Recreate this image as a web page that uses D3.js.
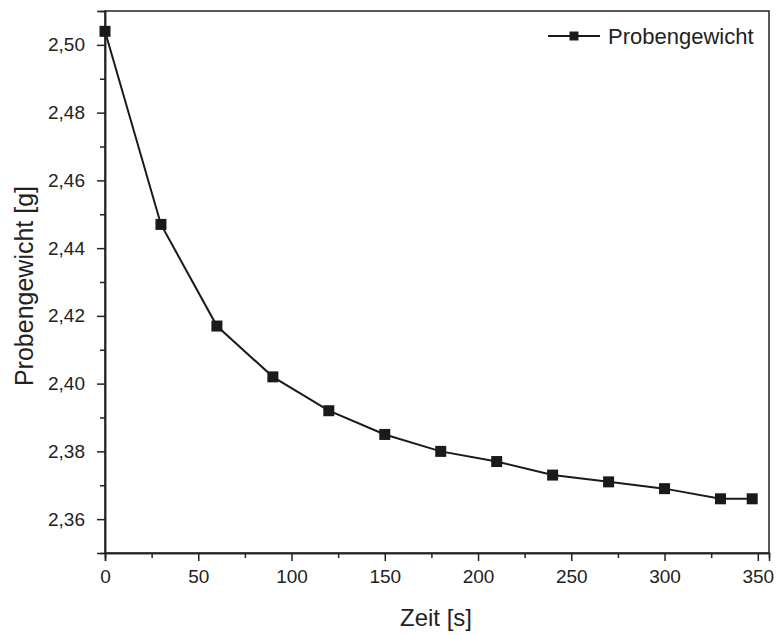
<!DOCTYPE html>
<html>
<head>
<meta charset="utf-8">
<script src="https://cdn.jsdelivr.net/npm/d3@7"></script>
<style>
    body { margin: 0; background: #fff; }
    text { font-family: "Liberation Sans", Arial, sans-serif; fill: #222; }
</style>
</head>
<body>
<svg width="784" height="635"></svg>
<script>
// values
let zeit = [0, 30, 60, 90, 120, 150, 180, 210, 240, 270, 300, 330, 347];
let gewicht = [2.504, 2.447, 2.417, 2.402, 2.392, 2.385, 2.380, 2.377, 2.373, 2.371, 2.369, 2.366, 2.366];
let xTicks = [0, 50, 100, 150, 200, 250, 300, 350];
let yTicks = [2.36, 2.38, 2.40, 2.42, 2.44, 2.46, 2.48, 2.50];
let seriesName = "Probengewicht";

let svg = d3.select("svg");
let margin = {left: 105, top: 11, right: 15, bottom: 82};
let width = +svg.attr("width");
let height = +svg.attr("height");

let x = d3.scaleLinear().domain([0, 356]).range([margin.left, width - margin.right]);
let y = d3.scaleLinear().domain([2.35, 2.51]).range([height - margin.bottom, margin.top]);

let comma = d => d3.format(".2f")(d).replace(".", ",");

// frame
svg.append("rect")
    .attr("x", x.range()[0])
    .attr("y", y.range()[1])
    .attr("width", x.range()[1] - x.range()[0])
    .attr("height", y.range()[0] - y.range()[1])
    .attr("fill", "none")
    .attr("stroke", "#222")
    .attr("stroke-width", 1.5);

// minor ticks
let xAxisMinor = d3.axisBottom(x).tickValues(d3.range(25, 356, 50)).tickSize(5).tickFormat("");
let yAxisMinor = d3.axisLeft(y).tickValues(d3.range(2.37, 2.51, 0.02)).tickSize(5).tickFormat("");

let xAxis = d3.axisBottom(x).tickValues(xTicks).tickSize(8).tickPadding(9);
let yAxis = d3.axisLeft(y).tickValues(yTicks).tickSize(8).tickPadding(12).tickFormat(comma);

function styleAxis(g) {
    g.select(".domain").attr("stroke", "#222").attr("stroke-width", 1.5);
    g.selectAll(".tick line").attr("stroke", "#222").attr("stroke-width", 1.5);
    g.selectAll("text").attr("font-size", 19).attr("fill", "#222")
        .style("font-family", "'Liberation Sans', Arial, sans-serif");
}

svg.append("g").attr("transform", `translate(0,${y.range()[0]})`).call(xAxisMinor).call(styleAxis);
svg.append("g").attr("transform", `translate(${x.range()[0]},0)`).call(yAxisMinor).call(styleAxis);
svg.append("g").attr("transform", `translate(0,${y.range()[0]})`).call(xAxis).call(styleAxis);
svg.append("g").attr("transform", `translate(${x.range()[0]},0)`).call(yAxis).call(styleAxis);

// axis titles
svg.append("text")
    .attr("x", 436)
    .attr("y", 626)
    .attr("text-anchor", "middle")
    .attr("font-size", 24)
    .text("Zeit [s]");

svg.append("text")
    .attr("transform", "translate(33,286) rotate(-90)")
    .attr("text-anchor", "middle")
    .attr("font-size", 25)
    .text("Probengewicht [g]");

// data line and markers
let data = zeit.map((t, i) => ({t: t, g: gewicht[i]}));
let line = d3.line().x(d => x(d.t)).y(d => y(d.g));

svg.append("path")
    .datum(data)
    .attr("d", line)
    .attr("fill", "none")
    .attr("stroke", "#1a1a1a")
    .attr("stroke-width", 2);

let ms = 11;
svg.append("g")
    .selectAll("rect")
    .data(data)
    .enter().append("rect")
    .attr("x", d => x(d.t) - ms / 2)
    .attr("y", d => y(d.g) - ms / 2)
    .attr("width", ms)
    .attr("height", ms)
    .attr("fill", "#1a1a1a");

// legend
let legend = svg.append("g").attr("transform", "translate(548,36)");
legend.append("line")
    .attr("x1", 0).attr("x2", 52)
    .attr("y1", 0).attr("y2", 0)
    .attr("stroke", "#1a1a1a").attr("stroke-width", 2);
legend.append("rect")
    .attr("x", 26 - 4.5).attr("y", -4.5)
    .attr("width", 9).attr("height", 9)
    .attr("fill", "#1a1a1a");
legend.append("text")
    .attr("x", 60).attr("y", 7.5)
    .attr("font-size", 22)
    .text(seriesName);
</script>
</body>
</html>
